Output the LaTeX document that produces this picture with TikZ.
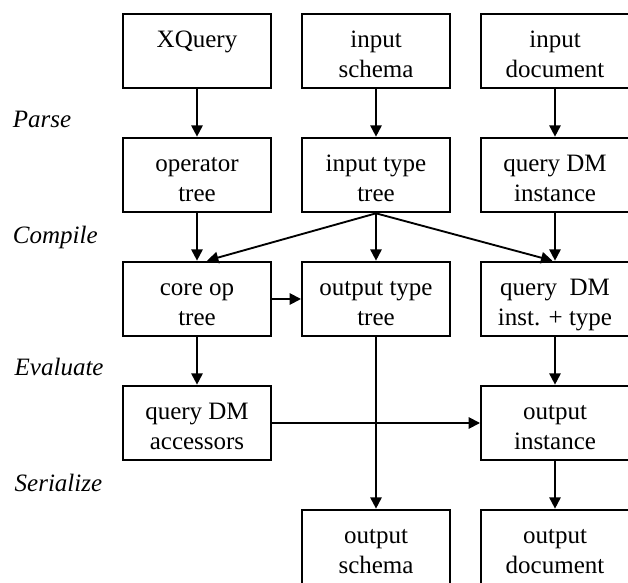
\documentclass[tikz,border=0pt]{standalone}
\usepackage{fontspec}
\setmainfont{Liberation Serif}
\usetikzlibrary{arrows.meta}

% two lines of box text, pushed a bit below the middle
\newcommand\boxlines[2]{\rule{0pt}{24pt}#1\\#2\strut}

\begin{document}
\begin{tikzpicture}[
  x=134.25pt, y=-93pt,
  stage/.style={rectangle,draw=black,line width=1.5pt,minimum width=111pt,minimum height=56pt,inner sep=0pt,align=center,font=\fontsize{18.75}{22.5}\selectfont},
  phase/.style={anchor=west,inner sep=0pt,font=\fontsize{18.75}{22.5}\selectfont\itshape},
  flow/.style={-{Triangle[length=8.5pt,width=8.5pt]},line width=1.4pt}
]

\useasboundingbox (-1.1006,-0.4113) rectangle (2.4078,4.2823);

% phases on the left
\node[phase] (lparse)   at (-1.03,0.55) {Parse};
\node[phase] (lcompile) at (-1.03,1.50) {Compile};
\node[phase] (leval)    at (-1.02,2.55) {Evaluate};
\node[phase] (lserial)  at (-1.02,3.48) {Serialize};

% boxes, column by column
\node[stage] (xq)       at (0,0) {\boxlines{XQuery}{~}};
\node[stage] (optree)   at (0,1) {\boxlines{operator}{tree}};
\node[stage] (coreop)   at (0,2) {\boxlines{core op}{tree}};
\node[stage] (access)   at (0,3) {\boxlines{query DM}{accessors}};

\node[stage] (inschema)  at (1,0) {\boxlines{input}{schema}};
\node[stage] (intype)    at (1,1) {\boxlines{input type}{tree}};
\node[stage] (outtype)   at (1,2) {\boxlines{output type}{tree}};
\node[stage] (outschema) at (1,4) {\boxlines{output}{schema}};

\node[stage] (indoc)   at (2,0) {\boxlines{input}{document}};
\node[stage] (dminst)  at (2,1) {\boxlines{query DM}{instance}};
\node[stage] (dmtype)  at (2,2) {\boxlines{query\ \ DM}{inst. + type}};
\node[stage] (outinst) at (2,3) {\boxlines{output}{instance}};
\node[stage] (outdoc)  at (2,4) {\boxlines{output}{document}};

% arrows
\draw[flow] (xq) -- (optree);
\draw[flow] (inschema) -- (intype);
\draw[flow] (indoc) -- (dminst);

\draw[flow] (optree) -- (coreop);
\draw[flow] (intype.south) -- ([xshift=7.5pt]coreop.north);
\draw[flow] (intype) -- (outtype);
\draw[flow] (intype.south) -- ([xshift=-2pt]dmtype.north);
\draw[flow] (dminst) -- (dmtype);

\draw[flow] (coreop) -- (outtype);
\draw[flow] (coreop) -- (access);
\draw[flow] (outtype) -- (outschema);
\draw[flow] (dmtype) -- (outinst);

\draw[flow] (access) -- (outinst);
\draw[flow] (outinst) -- (outdoc);

\end{tikzpicture}
\end{document}
